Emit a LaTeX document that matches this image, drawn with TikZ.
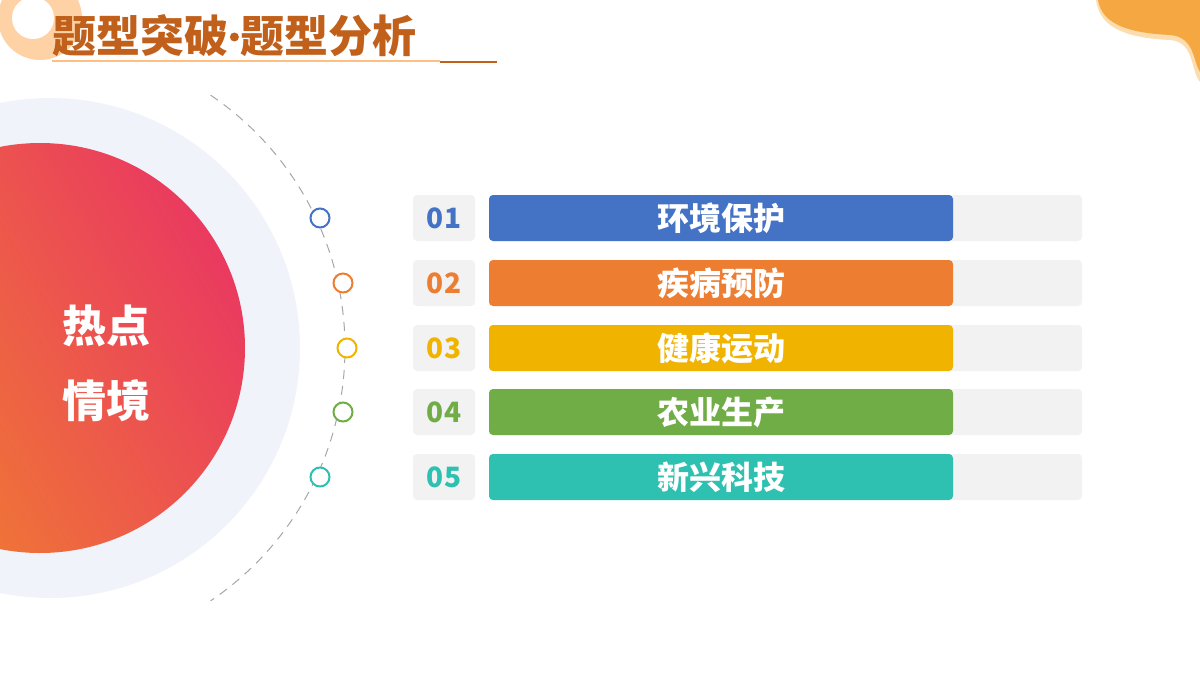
\documentclass[tikz,border=0pt]{standalone}
\usepackage{fontspec}
\setmainfont{Noto Sans CJK SC}
\usetikzlibrary{calc}
\definecolor{cA}{HTML}{4472C4}
\definecolor{cB}{HTML}{ED7D31}
\definecolor{cC}{HTML}{F0B400}
\definecolor{cD}{HTML}{70AD47}
\definecolor{cE}{HTML}{2EC0B0}
\definecolor{ttl}{HTML}{C0601A}
\definecolor{pale}{HTML}{F1F3FA}
\definecolor{gbar}{HTML}{F2F2F2}
\definecolor{gR}{HTML}{EA3A60}
\definecolor{gO}{HTML}{F07E30}
\definecolor{blob}{HTML}{F5A841}
\definecolor{blobl}{HTML}{FBDDB0}
\tikzset{
 numbox/.style={fill=gbar,rounded corners=4pt,minimum width=62pt,minimum height=46pt,inner sep=0,font=\bfseries\fontsize{28}{30}\selectfont},
 back/.style={fill=gbar,rounded corners=4pt,minimum width=593pt,minimum height=46pt,inner sep=0},
 bar/.style={rounded corners=4pt,minimum width=464pt,minimum height=46pt,inner sep=0,text=white,font=\bfseries\fontsize{32}{34}\selectfont},
 dot/.style={circle,draw,line width=2pt,fill=white,minimum size=19pt,inner sep=0},
 ttlfont/.style={font=\bfseries\fontsize{44}{46}\selectfont,text=ttl,inner sep=0}
}
\begin{document}
\begin{tikzpicture}[x=1pt,y=-1pt]
\useasboundingbox (0,0) rectangle (1200,675);
\begin{scope}
\clip (0,0) rectangle (1200,675);
\fill[orange!35] (40,18) circle (42);
\fill[white] (33,18) circle (21);
\fill[blobl] (1096,0) .. controls (1100,30) and (1130,38) .. (1170,40) .. controls (1195,42) and (1190,70) .. (1200,82) -- (1200,0) -- cycle;
\fill[blob] (1098,0) .. controls (1102,25) and (1130,33) .. (1170,35) .. controls (1195,37) and (1193,62) .. (1200,72) -- (1200,0) -- cycle;
\fill[pale] (50,348) circle (250);
\shade[left color=gO,right color=gR,shading angle=120] (40,348) circle (205);
\end{scope}
\draw[gray!70,line width=1pt,dash pattern=on 9pt off 7pt] (40,348) ++(-56:305) arc[start angle=-56,end angle=56,radius=305];
\node[ttlfont,anchor=base west] (tl) at (52,52) {题型突破};
\fill[ttl] ($(tl.base east)+(6,-15)$) circle (4.5);
\node[ttlfont,anchor=base west] (tr) at ($(tl.base east)+(12,0)$) {题型分析};
\draw[orange!50,line width=1.2pt] (52,61) -- (440,61);
\draw[ttl,line width=2.5pt] (440,62) -- (497,62);
\node[text=white,font=\bfseries\fontsize{44}{48}\selectfont] (h1) at (106,326) {热点};
\node[text=white,font=\bfseries\fontsize{44}{48}\selectfont] (h2) at (106,401) {情境};
\foreach \i/\y/\x/\c/\t in {1/218/320/cA/环境保护,2/283/343/cB/疾病预防,3/348/347/cC/健康运动,4/412/343/cD/农业生产,5/477/320/cE/新兴科技}{
 \node[dot,draw=\c] (d\i) at (\x,\y) {};
 \node[numbox,text=\c] (n\i) at (444,\y) {0\i};
 \node[back] (b\i) at (785.5,\y) {};
 \node[bar,fill=\c] (t\i) at (721,\y) {\t};
}
\end{tikzpicture}
\end{document}
